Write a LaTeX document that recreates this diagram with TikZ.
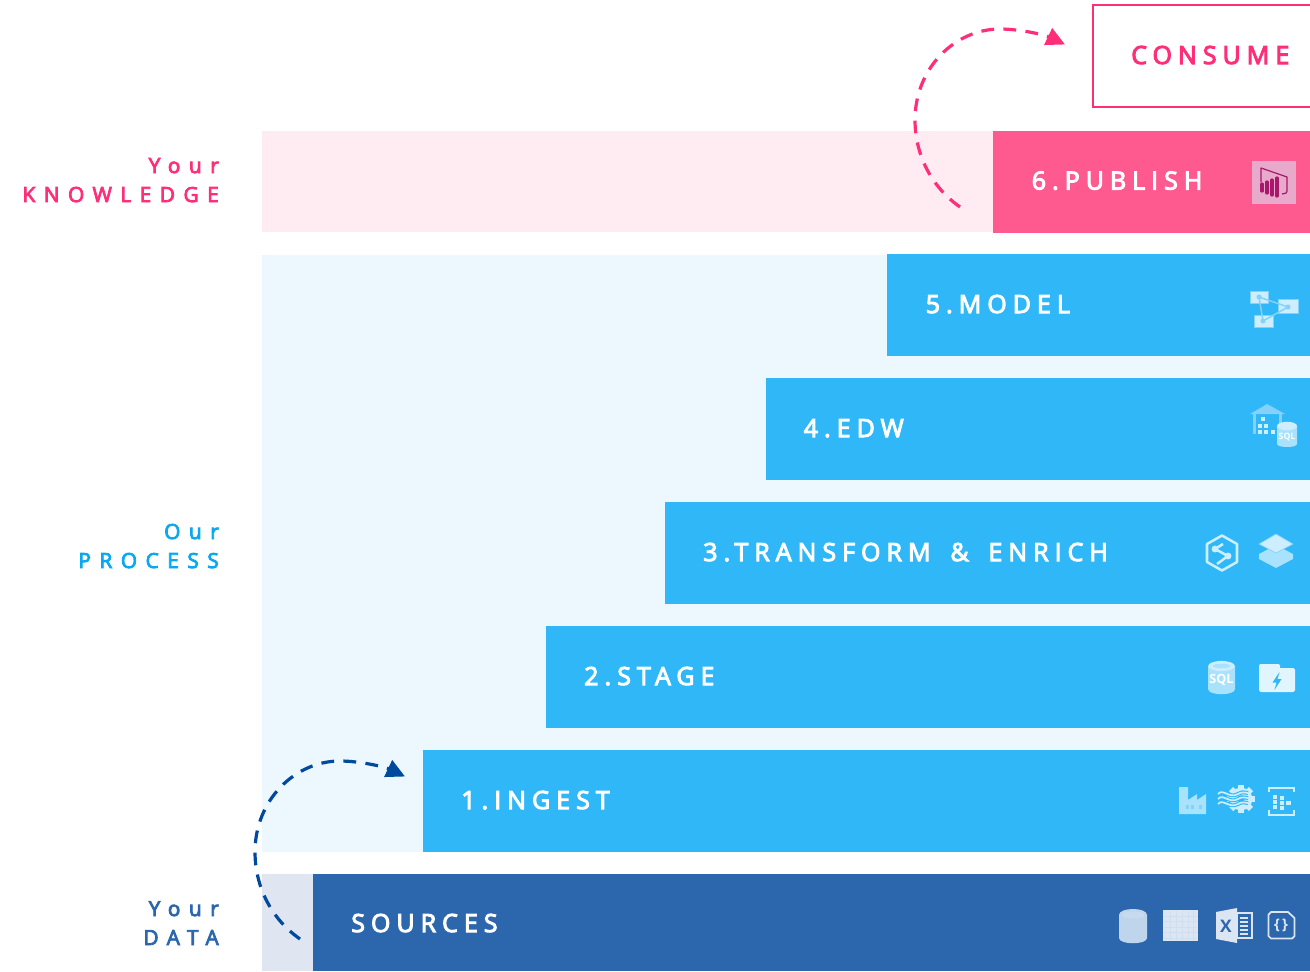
\documentclass[tikz,border=0pt]{standalone}
\usepackage{fontspec}
\usetikzlibrary{arrows.meta}
\setmainfont{Open Sans}
\newfontfamily\barfont[LetterSpace=24,FakeBold=4]{Open Sans}
\newfontfamily\labfont[LetterSpace=41,FakeBold=4]{Open Sans}
\definecolor{barblue}{HTML}{2FB7F7}
\definecolor{paleblue}{HTML}{ECF7FE}
\definecolor{barpink}{HTML}{FF5A90}
\definecolor{palepink}{HTML}{FFEBF1}
\definecolor{hotpink}{HTML}{FF2E78}
\definecolor{srcblue}{HTML}{2C66AC}
\definecolor{palesrc}{HTML}{DFE6F2}
\definecolor{arcblue}{HTML}{004A9E}
\definecolor{labblue}{HTML}{0AA8F0}
\definecolor{iconlight}{HTML}{CDEEFF}
\definecolor{iconmid}{HTML}{A9E2FC}
\definecolor{icondeep}{HTML}{84D2FA}
\definecolor{srclight}{HTML}{DCE6F2}
\definecolor{srcmid}{HTML}{BED5EC}
\definecolor{pbitile}{HTML}{E8AACB}
\definecolor{pbimag}{HTML}{A8176C}
\tikzset{
  x=0.75pt,y=-0.75pt,
  block/.style={draw=none,inner sep=0,outer sep=0,anchor=north west},
  bartext/.style={inner sep=0,anchor=base west,text=white,font=\barfont\fontsize{18.75}{20}\selectfont},
  lablabel/.style={inner sep=0,anchor=base east,font=\labfont\fontsize{15.6}{18}\selectfont},
  arc/.style={line width=2.4pt,dash pattern=on 9.6pt off 7pt,-{Triangle[length=14pt,width=13.5pt]}},
  icontext/.style={inner sep=0,font=\fontsize{7.5}{8}\selectfont\bfseries},
}
\newcommand{\cylinder}[6]{% x1,x2,ytop,ybot,body,top
  \fill[#5] (#1,#3+4) -- (#1,#4-4) .. controls (#1,#4) and (#2,#4) .. (#2,#4-4) -- (#2,#3+4) -- cycle;
  \fill[#6] ({(#1+#2)/2},#3+4) ellipse[x radius={(#2-#1)*0.5pt*0.75},y radius=3.2pt];
}
\begin{document}
\begin{tikzpicture}
\useasboundingbox (0,0) rectangle (1310,971);
\clip (0,0) rectangle (1310,971);
% bands
\node[block,fill=palepink,minimum width=731*0.75pt,minimum height=101*0.75pt] (bandk) at (262,131) {};
\node[block,fill=paleblue,minimum width=1048*0.75pt,minimum height=597.5*0.75pt] (bandp) at (262,254.5) {};
\node[block,fill=palesrc,minimum width=51*0.75pt,minimum height=97*0.75pt] (bandd) at (262,874) {};
% bars
\node[block,fill=barpink,minimum width=317*0.75pt,minimum height=102*0.75pt] (publish) at (993,131) {};
\node[block,fill=barblue,minimum width=423*0.75pt,minimum height=102*0.75pt] (model) at (887,254) {};
\node[block,fill=barblue,minimum width=544*0.75pt,minimum height=102*0.75pt] (edw) at (766,378) {};
\node[block,fill=barblue,minimum width=645*0.75pt,minimum height=102*0.75pt] (transform) at (665,502) {};
\node[block,fill=barblue,minimum width=764*0.75pt,minimum height=102*0.75pt] (stage) at (546,626) {};
\node[block,fill=barblue,minimum width=887*0.75pt,minimum height=102*0.75pt] (ingest) at (423,750) {};
\node[block,fill=srcblue,minimum width=997*0.75pt,minimum height=97*0.75pt] (sources) at (313,874) {};
\draw[hotpink,line width=2.2pt] (1093,5) rectangle (1330,107);
% bar text
\node[bartext] (tconsume) at (1131,64) {\textcolor{hotpink}{CONSUME}};
\node[bartext] (tpublish) at (1031.5,189.5) {6.PUBLISH};
\node[bartext] (tmodel) at (925.5,313) {5.MODEL};
\node[bartext] (tedw) at (803.5,437) {4.EDW};
\node[bartext] (ttrans) at (703,561) {3.TRANSFORM\hspace{5.5pt} \&\hspace{5.5pt} ENRICH};
\node[bartext] (tstage) at (584,685) {2.STAGE};
\node[bartext] (tingest) at (461,809) {1.INGEST};
\node[bartext] (tsources) at (351,932) {SOURCES};
% side labels
\node[lablabel,text=hotpink] (l1a) at (219,173) {Your};
\node[lablabel,text=hotpink] (l1b) at (219,202) {KNOWLEDGE};
\node[lablabel,text=labblue] (l2a) at (219,539) {Our};
\node[lablabel,text=labblue] (l2b) at (219,568) {PROCESS};
\node[lablabel,text=srcblue] (l3a) at (219,916) {Your};
\node[lablabel,text=srcblue] (l3b) at (219,945) {DATA};
% connectors
\coordinate (b0) at (300,939);
\coordinate (b1) at (405,776.5);
\coordinate (p0) at (960,207);
\coordinate (p1) at (1065,44.5);
\draw[arc,arcblue] (b0) .. controls (270,918) and (255,885) .. (255,852) .. controls (255,800) and (295,761) .. (340,761) .. controls (360,761) and (385,767) .. (b1);
\draw[arc,hotpink] (p0) .. controls (930,186) and (915,153) .. (915,120) .. controls (915,68) and (955,29) .. (1000,29) .. controls (1020,29) and (1045,35) .. (p1);
% --- Power BI
\fill[pbitile] (1252,161) rectangle (1296,204);
\draw[pbimag,line width=0.9pt,line join=round] (1261,182) -- (1261,168) -- (1287,177) -- (1287,191) .. controls (1287,193) .. (1282,194);
\foreach \xx/\ya/\yb in {1262/184/191,1267/182/193,1272/180/195,1277/178/196}
  \draw[pbimag,line width=2.4pt,line cap=round] (\xx,\ya) -- (\xx,\yb);
% --- model
\foreach \a/\b/\c/\d in {1250/291/1268/303,1278/299/1298/313,1254/315/1273/327}
  \draw[icondeep,fill=iconlight,line width=0.7pt] (\a,\b) rectangle (\c,\d);
\draw[icondeep,line width=1.1pt,line join=round] (1259,297) -- (1288,307) -- (1263,321) -- cycle;
\foreach \a/\b in {1259/297,1288/307,1263/321} \fill[icondeep] (\a,\b) circle (1.9pt);
% --- warehouse
\fill[icondeep] (1250,414) -- (1267,404) -- (1285,414) -- cycle;
\fill[icondeep] (1253,414) rectangle (1256,434);
\fill[icondeep] (1279,414) rectangle (1282,424);
\foreach \a/\b in {1263/419,1260/426,1266/426,1260/432,1266/432,1273/432}
  \fill[iconlight] (\a-1.8,\b-1.8) rectangle (\a+1.8,\b+1.8);
\cylinder{1277}{1297}{422}{448}{iconmid}{iconlight}
\node[icontext,text=white] (sqla) at (1287,437) {\fontsize{6.5}{7}\selectfont SQL};
% --- synapse hexagon
\draw[iconlight,line width=1.9pt,line join=round] (1222,535.5) -- (1237,544) -- (1237,562) -- (1222,570.5) -- (1207,562) -- (1207,544) -- cycle;
\draw[iconlight,line width=1.9pt,line join=round] (1223,544) -- (1215,549) -- (1228,556) -- (1217,564);
\fill[iconlight] (1215,549) circle (2.6pt);
\fill[iconlight] (1228,556) circle (2.6pt);
% --- layers
\fill[iconmid] (1259,554) -- (1276,545) -- (1293,554) -- (1293,559) -- (1276,568) -- (1259,559) -- cycle;
\draw[icondeep,line width=0.5pt,fill=iconlight] (1276,534) -- (1293,544) -- (1276,553) -- (1259,544) -- cycle;
% --- SQL cylinder
\fill[iconmid] (1208,666) -- (1208,689) .. controls (1208,696) and (1235,696) .. (1235,689) -- (1235,666) -- cycle;
\fill[iconlight] (1221.5,666) ellipse[x radius=10pt,y radius=3.8pt];
\fill[iconmid] (1221.5,666) ellipse[x radius=6.5pt,y radius=1.7pt];
\node[icontext,text=white] (sqlb) at (1221.5,680) {\fontsize{9.5}{10}\selectfont SQL};
% --- folder
\fill[iconlight!60!white,rounded corners=1pt] (1259,664) rectangle (1280,672);
\fill[iconlight!60!white,rounded corners=1.2pt] (1259,668) rectangle (1295,692);
\fill[barblue] (1279.5,672) -- (1272.5,682.5) -- (1276.5,682.5) -- (1274.5,690) -- (1281.5,679) -- (1277.5,679) -- cycle;
% --- factory
\fill[iconmid] (1179,787) -- (1188,787) -- (1188,800) -- (1197,794) -- (1197,800) -- (1206,794) -- (1206,814) -- (1179,814) -- cycle;
\foreach \a in {1187,1192,1200} \fill[icondeep] (\a-1.5,805) rectangle (\a+1.5,809);
% --- gear with waves
\foreach \ang in {0,45,...,315}
  \fill[iconlight,rotate around={\ang:(1241,799)}] (1238,785) rectangle (1244,792);
\fill[iconlight] (1241,799) circle (8.5pt);
\fill[barblue] (1241,799) circle (2.8pt);
\foreach \yy in {794,799,804}
  \draw[barblue,line width=2.9pt] (1217,\yy) .. controls (1223,\yy-6) and (1229,\yy+5) .. (1238,\yy) .. controls (1242,\yy-2) .. (1248,\yy-1);
\foreach \yy in {794,799,804}
  \draw[iconlight,line width=1.3pt] (1218,\yy) .. controls (1223,\yy-6) and (1229,\yy+5) .. (1238,\yy) .. controls (1242,\yy-2) .. (1248,\yy-1);
% --- event hub
\draw[iconlight,line width=1.5pt] (1269,792) -- (1269,788) -- (1294,788) -- (1294,792);
\draw[iconlight,line width=1.5pt] (1269,810) -- (1269,814.5) -- (1294,814.5) -- (1294,810);
\foreach \a/\b in {1275/797,1275/802,1275/807,1282/798,1282/803,1282/808,1288.5/803}
  \fill[iconlight] (\a-2.1,\b-1.9) rectangle (\a+2.1,\b+1.9);
% --- source cylinder
\fill[srcmid] (1119,915) -- (1119,938) .. controls (1119,945) and (1147,945) .. (1147,938) -- (1147,915) .. controls (1147,907) and (1119,907) .. (1119,915) -- cycle;
\fill[srcmid!70!srclight] (1133,915) ellipse[x radius=8.5pt,y radius=2.6pt];
% --- table
\fill[srclight] (1163,910) rectangle (1198,941);
\foreach \a in {1170,1176,1182,1188,1193} \draw[srclight!60!srcmid,line width=0.6pt] (\a,911) -- (\a,940);
\foreach \b in {916,921.5,927,932.5,938} \draw[srclight!60!srcmid,line width=0.6pt] (1164,\b) -- (1197,\b);
% --- excel
\draw[srclight,line width=0.8pt] (1237,913) rectangle (1252,938);
\foreach \b in {917,921,925,929,933} \fill[srclight] (1240,\b) rectangle (1248,\b+2.2);
\fill[srclight] (1216,912) -- (1237,908) -- (1237,943) -- (1216,939) -- cycle;
\node[icontext,text=srcblue] (xl) at (1226,926) {\fontsize{13}{14}\selectfont\bfseries X};
% --- json
\draw[srclight,line width=1.3pt,line join=round] (1271,912) -- (1288,912) -- (1294.5,918) -- (1294.5,936) -- (1292,938.5) -- (1271,938.5) -- (1268.5,936) -- (1268.5,914.5) -- cycle;
\node[icontext,text=srclight] (js) at (1281,925) {\fontsize{11}{12}\selectfont\{\,\}};
\end{tikzpicture}
\end{document}
